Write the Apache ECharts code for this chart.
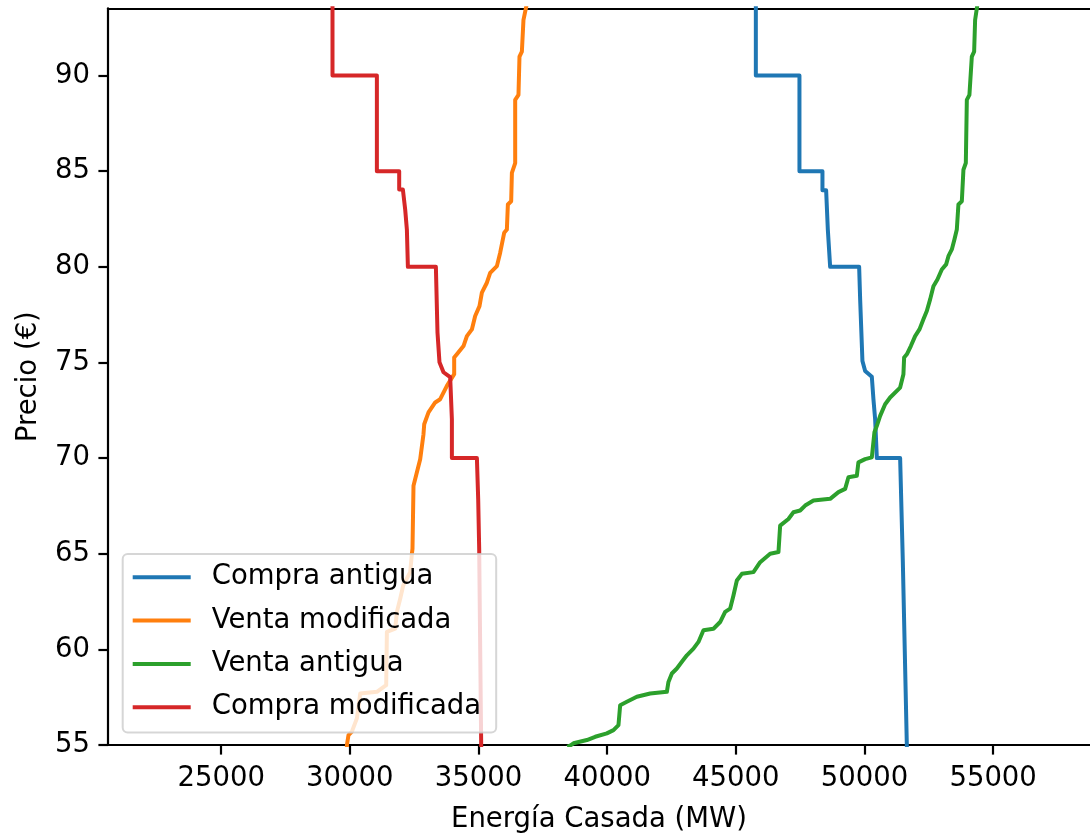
<!DOCTYPE html>
<html>
<head>
<meta charset="utf-8">
<script src="https://cdn.jsdelivr.net/npm/echarts@6/dist/echarts.min.js"></script>
<style>
  html, body { margin: 0; padding: 0; background: #ffffff; }
  #chart { width: 1090px; height: 839px; }
</style>
</head>
<body>
<div id="chart"></div>
<script>
// ---- Data (energy in MW, price in €) ----
const seriesNames = ['Compra antigua', 'Venta modificada', 'Venta antigua', 'Compra modificada'];
const seriesColors = ['#1f77b4', '#ff7f0e', '#2ca02c', '#d62728'];

const compraAntiguaMW = [45778, 45778, 47473, 47473, 48367, 48367, 48510, 48576, 48666, 49793, 49832, 49921, 50026, 50286, 50348, 50414, 50481, 51386, 51491, 51646, 51660];
const compraAntiguaPrecio = [95, 90, 90, 85, 85, 84.0, 84.0, 81.95, 80, 80, 78.3, 75.08, 74.56, 74.25, 73.08, 72.04, 70, 70, 64.56, 55, 54];

const ventaModificadaMW = [36915, 36747, 36685, 36592, 36553, 36425, 36425, 36297, 36269, 36141, 36102, 35997, 35842, 35714, 35453, 35325, 35131, 35038, 34870, 34742, 34548, 34416, 34159, 34054, 34054, 33771, 33510, 33316, 33056, 32889, 32861, 32733, 32605, 32473, 32434, 32411, 32345, 32073, 31956, 31828, 31762, 31439, 31412, 31050, 30402, 30273, 30079, 29947, 29885, 29870];
const ventaModificadaPrecio = [94, 92.91, 91.25, 90.99, 88.99, 88.73, 85.43, 84.91, 83.43, 83.26, 81.95, 81.78, 80.74, 80.04, 79.69, 79.17, 78.65, 77.95, 77.43, 76.73, 76.38, 75.86, 75.43, 75.26, 74.39, 73.78, 73.08, 72.91, 72.39, 71.77, 71.25, 69.94, 69.26, 68.56, 65.26, 65.0, 64.04, 63.34, 62.65, 61.96, 61.08, 60.91, 58.13, 57.78, 57.69, 56.39, 55.70, 55.52, 55.0, 54];

const ventaAntiguaMW = [54420, 54300, 54262, 54172, 54079, 53978, 53939, 53846, 53784, 53651, 53589, 53496, 53395, 53263, 53174, 53006, 52835, 52680, 52552, 52423, 52291, 52136, 51969, 51802, 51646, 51541, 51514, 51386, 50997, 50803, 50609, 50481, 50387, 50286, 50026, 49765, 49703, 49377, 49249, 48988, 48666, 48017, 47694, 47500, 47240, 47045, 46723, 46657, 46334, 45946, 45685, 45234, 45040, 44908, 44780, 44585, 44391, 44131, 43742, 43548, 43354, 43097, 42903, 42708, 42514, 42382, 42320, 41671, 41154, 40765, 40505, 40439, 40245, 39988, 39534, 39211, 38690, 38562, 38450];
const ventaAntiguaPrecio = [94, 92.91, 91.25, 90.99, 88.99, 88.73, 85.43, 85.08, 83.43, 83.26, 81.95, 81.43, 80.91, 80.56, 80.13, 79.86, 79.34, 78.99, 78.30, 77.69, 77.26, 76.73, 76.38, 75.86, 75.43, 75.26, 74.39, 73.69, 73.17, 72.82, 72.21, 71.69, 71.35, 70.04, 69.95, 69.78, 69.08, 69.0, 68.39, 68.22, 67.87, 67.78, 67.52, 67.26, 67.17, 66.82, 66.47, 65.09, 65.0, 64.56, 64.04, 63.95, 63.60, 62.82, 62.13, 61.96, 61.43, 61.08, 61.0, 60.39, 60.04, 59.69, 59.35, 59.0, 58.74, 58.30, 57.78, 57.69, 57.52, 57.26, 57.08, 56.04, 55.78, 55.61, 55.43, 55.26, 55.09, 54.97, 54.9];

const compraModificadaMW = [29325, 29325, 31050, 31050, 31917, 31917, 32061, 32150, 32216, 32255, 33343, 33405, 33483, 33639, 33899, 33965, 33965, 34937, 34987, 35026, 35065, 35104, 35110];
const compraModificadaPrecio = [95, 90, 90, 85, 85, 84.04, 84.04, 83.0, 81.95, 80, 80, 76.58, 75.01, 74.49, 74.23, 72.04, 70, 70, 67.87, 65.26, 60.04, 55, 54];

const xTicks = [25000, 30000, 35000, 40000, 45000, 50000, 55000];
const yTicks = [55, 60, 65, 70, 75, 80, 85, 90];
const xRange = [20600, 58765];
const yRange = [55, 93.52];

// ---- Build chart ----
const zip = (xs, ys) => xs.map((x, i) => [x, ys[i]]);
const seriesData = [
  zip(compraAntiguaMW, compraAntiguaPrecio),
  zip(ventaModificadaMW, ventaModificadaPrecio),
  zip(ventaAntiguaMW, ventaAntiguaPrecio),
  zip(compraModificadaMW, compraModificadaPrecio)
];

const FONT = 'DejaVu Sans';
const FS = 27.5;

const chart = echarts.init(document.getElementById('chart'), null, { renderer: 'canvas' });
chart.setOption({
  animation: false,
  backgroundColor: '#ffffff',
  textStyle: { fontFamily: FONT },
  grid: { left: 108, right: 0, top: 8.3, bottom: 92.3, containLabel: false },
  xAxis: [{
    type: 'value',
    min: xRange[0], max: xRange[1],
    name: 'Energía Casada (MW)',
    nameLocation: 'middle',
    nameGap: 61,
    nameTextStyle: { fontFamily: FONT, fontSize: FS, color: '#000' },
    axisLine: { show: true, lineStyle: { color: '#000', width: 2.2 } },
    axisTick: { show: true, length: 9.6, lineStyle: { color: '#000', width: 2.2 }, customValues: xTicks },
    axisLabel: { show: true, margin: 20, fontFamily: FONT, fontSize: FS, color: '#000', customValues: xTicks, formatter: v => String(v) },
    splitLine: { show: false }
  }, {
    type: 'value',
    position: 'top',
    min: xRange[0], max: xRange[1],
    axisLine: { show: true, onZero: false, lineStyle: { color: '#000', width: 2.2 } },
    axisTick: { show: false },
    axisLabel: { show: false },
    splitLine: { show: false }
  }],
  yAxis: {
    type: 'value',
    min: yRange[0], max: yRange[1],
    name: 'Precio (€)',
    nameLocation: 'middle',
    nameGap: 65,
    nameTextStyle: { fontFamily: FONT, fontSize: FS, color: '#000' },
    axisLine: { show: true, lineStyle: { color: '#000', width: 2.2 } },
    axisTick: { show: true, length: 9.6, lineStyle: { color: '#000', width: 2.2 }, customValues: yTicks },
    axisLabel: { show: true, margin: 18, fontFamily: FONT, fontSize: FS, color: '#000', customValues: yTicks },
    splitLine: { show: false }
  },
  legend: {
    show: true,
    orient: 'vertical',
    left: 122.7,
    top: 554,
    padding: [8.3, 15, 10.4, 10],
    itemGap: 13.3,
    itemWidth: 58,
    itemHeight: 4,
    icon: 'rect',
    selectedMode: false,
    backgroundColor: 'rgba(255,255,255,0.8)',
    borderColor: 'rgba(204,204,204,0.8)',
    borderWidth: 2,
    borderRadius: 5,
    textStyle: { fontFamily: FONT, fontSize: FS, color: '#000', lineHeight: 30, padding: [0, 0, 0, 16] },
    data: seriesNames
  },
  series: seriesNames.map((name, i) => ({
    name: name,
    type: 'line',
    xAxisIndex: 0,
    data: seriesData[i],
    symbol: 'none',
    showSymbol: false,
    clip: true,
    color: seriesColors[i],
    lineStyle: { color: seriesColors[i], width: 4, join: 'round' },
    emphasis: { disabled: true }
  }))
});
</script>
</body>
</html>
